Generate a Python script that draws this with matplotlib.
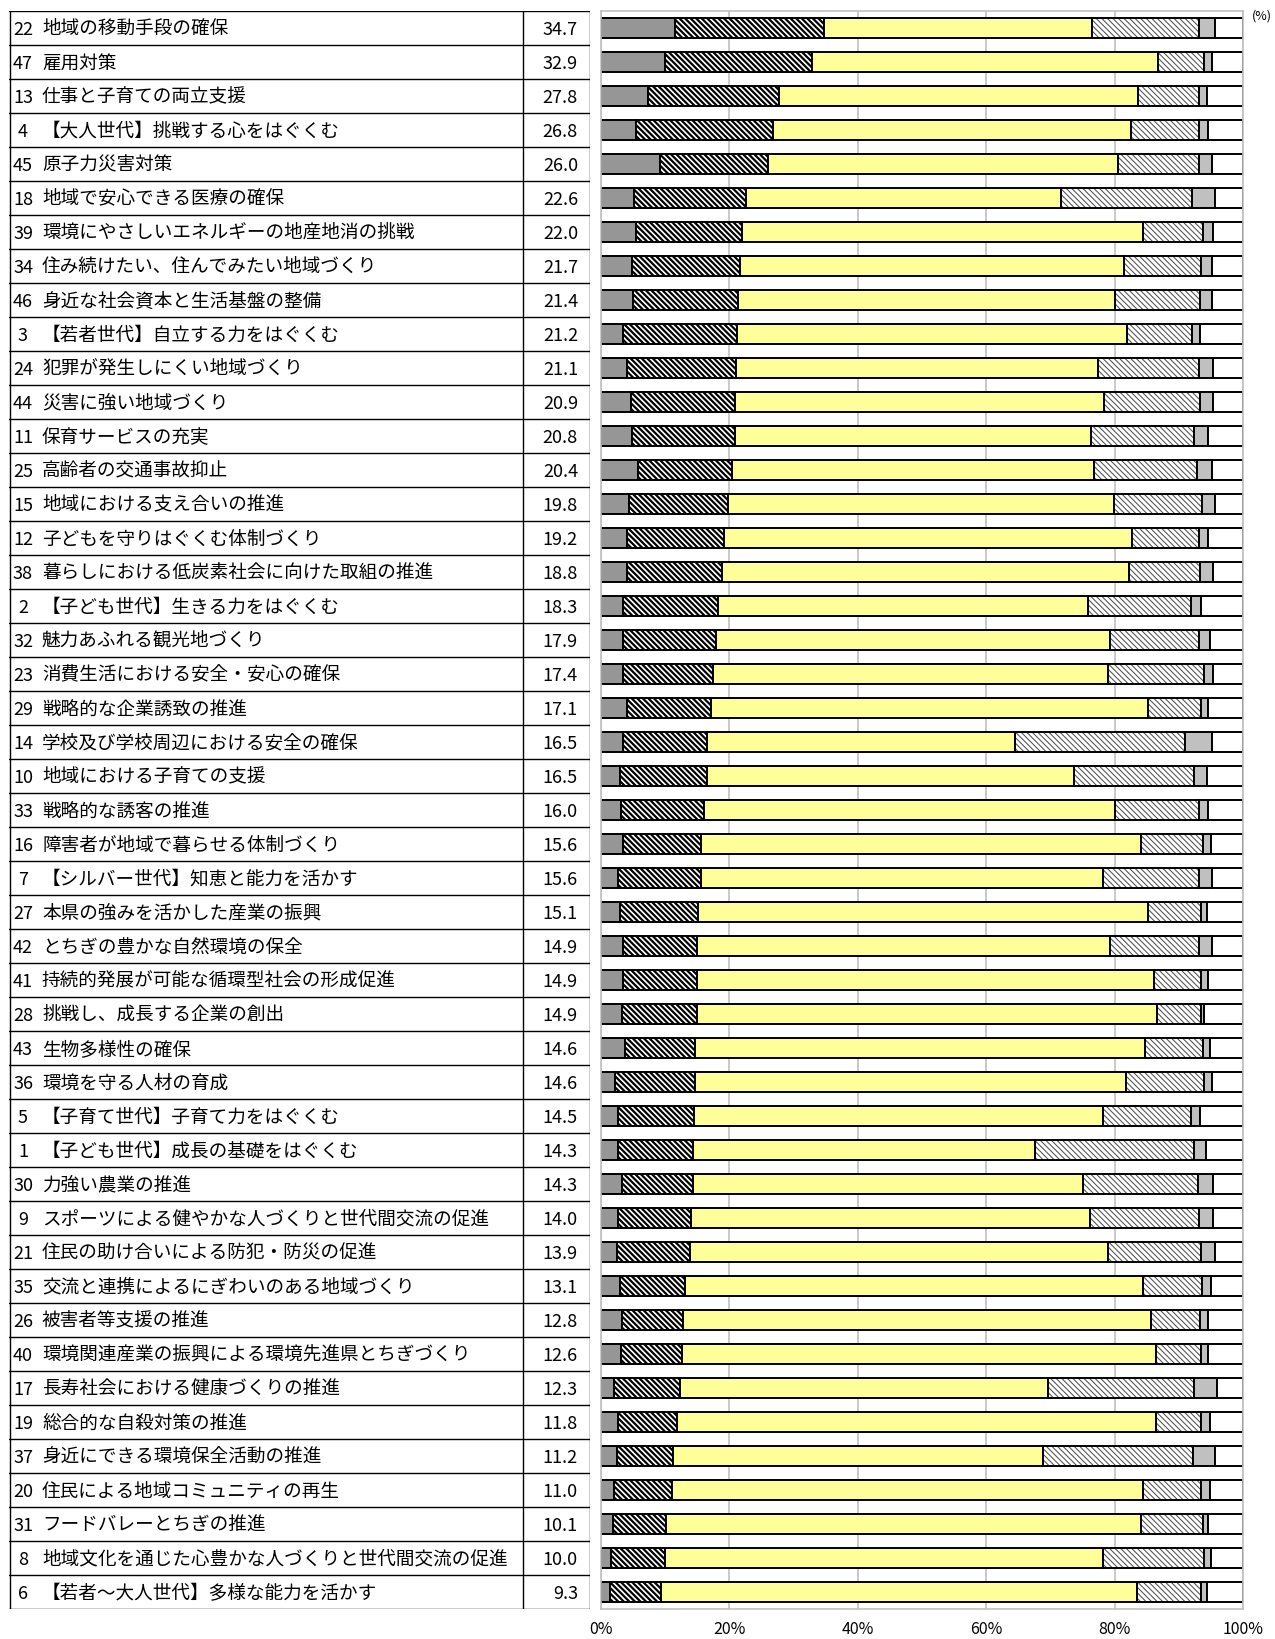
import numpy as np
import matplotlib
matplotlib.use("Agg")
import matplotlib.pyplot as plt

plt.rcParams['font.family'] = ['Noto Sans CJK JP', 'DejaVu Sans']
plt.rcParams['hatch.linewidth'] = 1.6

nums = [22, 47, 13, 4, 45, 18, 39, 34, 46, 3, 24, 44, 11, 25, 15, 12, 38, 2, 32, 23,
        29, 14, 10, 33, 16, 7, 27, 42, 41, 28, 43, 36, 5, 1, 30, 9, 21, 35, 26, 40,
        17, 19, 37, 20, 31, 8, 6]
names = [
    "地域の移動手段の確保", "雇用対策", "仕事と子育ての両立支援",
    "【大人世代】挑戦する心をはぐくむ", "原子力災害対策", "地域で安心できる医療の確保",
    "環境にやさしいエネルギーの地産地消の挑戦", "住み続けたい、住んでみたい地域づくり",
    "身近な社会資本と生活基盤の整備", "【若者世代】自立する力をはぐくむ",
    "犯罪が発生しにくい地域づくり", "災害に強い地域づくり", "保育サービスの充実",
    "高齢者の交通事故抑止", "地域における支え合いの推進", "子どもを守りはぐくむ体制づくり",
    "暮らしにおける低炭素社会に向けた取組の推進", "【子ども世代】生きる力をはぐくむ",
    "魅力あふれる観光地づくり", "消費生活における安全・安心の確保", "戦略的な企業誘致の推進",
    "学校及び学校周辺における安全の確保", "地域における子育ての支援", "戦略的な誘客の推進",
    "障害者が地域で暮らせる体制づくり", "【シルバー世代】知恵と能力を活かす",
    "本県の強みを活かした産業の振興", "とちぎの豊かな自然環境の保全",
    "持続的発展が可能な循環型社会の形成促進", "挑戦し、成長する企業の創出",
    "生物多様性の確保", "環境を守る人材の育成", "【子育て世代】子育て力をはぐくむ",
    "【子ども世代】成長の基礎をはぐくむ", "力強い農業の推進",
    "スポーツによる健やかな人づくりと世代間交流の促進",
    "住民の助け合いによる防犯・防災の促進", "交流と連携によるにぎわいのある地域づくり",
    "被害者等支援の推進", "環境関連産業の振興による環境先進県とちぎづくり",
    "長寿社会における健康づくりの推進", "総合的な自殺対策の推進",
    "身近にできる環境保全活動の推進", "住民による地域コミュニティの再生",
    "フードバレーとちぎの推進", "地域文化を通じた心豊かな人づくりと世代間交流の促進",
    "【若者～大人世代】多様な能力を活かす"]
totals = [34.7, 32.9, 27.8, 26.8, 26.0, 22.6, 22.0, 21.7, 21.4, 21.2, 21.1, 20.9, 20.8,
          20.4, 19.8, 19.2, 18.8, 18.3, 17.9, 17.4, 17.1, 16.5, 16.5, 16.0, 15.6, 15.6,
          15.1, 14.9, 14.9, 14.9, 14.6, 14.6, 14.5, 14.3, 14.3, 14.0, 13.9, 13.1, 12.8,
          12.6, 12.3, 11.8, 11.2, 11.0, 10.1, 10.0, 9.3]

seg_dark = [11.6, 9.9, 7.3, 5.4, 9.2, 5.1, 5.4, 4.8, 5.0, 3.5, 4.1, 4.6, 4.8, 5.8, 4.3, 4.1,
            4.1, 3.4, 3.5, 3.4, 4.1, 3.5, 2.9, 3.1, 3.5, 2.6, 2.9, 3.5, 3.5, 3.2, 3.8, 2.2,
            2.7, 2.7, 3.2, 2.6, 2.5, 2.9, 3.2, 3.1, 2.1, 2.7, 2.5, 2.1, 1.9, 1.6, 1.4]
seg_dense = [23.1, 23.0, 20.5, 21.4, 16.8, 17.5, 16.6, 16.9, 16.4, 17.7, 17.0, 16.3, 16.0,
             14.6, 15.5, 15.1, 14.7, 14.9, 14.4, 14.0, 13.0, 13.0, 13.6, 12.9, 12.1, 13.0,
             12.2, 11.4, 11.4, 11.7, 10.8, 12.4, 11.8, 11.6, 11.1, 11.4, 11.4, 10.2, 9.6,
             9.5, 10.2, 9.1, 8.7, 8.9, 8.2, 8.4, 7.9]
seg_yellow = [41.8, 53.8, 55.9, 55.7, 54.6, 49.0, 62.4, 59.7, 58.7, 60.8, 56.3, 57.5, 55.6,
              56.4, 60.1, 63.5, 63.4, 57.6, 61.4, 61.5, 68.1, 48.0, 57.2, 64.1, 68.5, 62.6,
              70.1, 64.4, 71.2, 71.7, 70.1, 67.2, 63.7, 53.3, 60.7, 62.1, 65.1, 71.4, 72.8,
              73.9, 57.4, 74.7, 57.6, 73.4, 74.0, 68.2, 74.2]
seg_light = [16.7, 7.2, 9.5, 10.7, 12.6, 20.4, 9.3, 12.0, 13.2, 10.0, 15.8, 14.9, 15.9, 16.1,
             13.7, 10.4, 11.1, 16.0, 13.8, 15.1, 8.3, 26.5, 18.6, 13.0, 9.6, 14.9, 8.2, 13.8,
             7.4, 6.9, 9.0, 12.1, 13.7, 24.8, 18.0, 17.1, 14.4, 9.1, 7.7, 7.0, 22.7, 6.9,
             23.4, 9.0, 9.7, 15.7, 9.9]
seg_gray = [2.5, 1.3, 1.2, 1.4, 1.9, 3.7, 1.7, 1.8, 1.9, 1.3, 2.2, 2.1, 2.2, 2.3, 2.1, 1.4,
            2.0, 1.6, 1.7, 1.4, 1.1, 4.1, 2.1, 1.5, 1.3, 2.0, 1.0, 2.0, 1.1, 0.4, 1.1, 1.3,
            1.4, 1.8, 2.3, 2.2, 2.2, 1.4, 1.3, 1.1, 3.5, 1.4, 3.4, 1.4, 0.8, 1.1, 1.0]
seg_white = [4.3, 4.8, 5.6, 5.4, 4.9, 4.3, 4.6, 4.8, 4.8, 6.7, 4.6, 4.6, 5.5, 4.8, 4.3, 5.5,
             4.7, 6.5, 5.2, 4.6, 5.4, 4.9, 5.6, 5.4, 5.0, 4.9, 5.6, 4.9, 5.4, 6.1, 5.2, 4.8,
             6.7, 5.8, 4.7, 4.6, 4.4, 5.0, 5.4, 5.4, 4.1, 5.2, 4.4, 5.2, 5.4, 5.0, 5.6]

xticks = [0, 20, 40, 60, 80, 100]
xticklabels = ["0%", "20%", "40%", "60%", "80%", "100%"]

W, H = 1275, 1639


def rect(l, t, r, b):
    return [l / W, 1 - b / H, (r - l) / W, (b - t) / H]


def hatch_lw(bars, lw):
    for p in bars:
        if hasattr(p, "set_hatch_linewidth"):
            p.set_hatch_linewidth(lw)


fig = plt.figure(figsize=(W / 100, H / 100), dpi=100)
n = len(names)
y = np.arange(n)

# table on the left
tab = fig.add_axes(rect(9, 11, 590, 1609))
tab.set_xlim(9, 590)
tab.set_ylim(n - 0.5, -0.5)
tab.axis("off")
for i in range(n + 1):
    tab.axhline(i - 0.5, color="black", lw=1.0)
for xv in [9.5, 523, 589.5]:
    tab.axvline(xv, color="black", lw=1.0)
for i in range(n):
    ty = i + 0.05
    tab.text(23, ty, str(nums[i]), ha="center", va="center", fontsize=13)
    tab.text(42, ty, names[i], ha="left", va="center", fontsize=13.4)
    tab.text(578, ty, f"{totals[i]:.1f}", ha="right", va="center", fontsize=13)

# stacked bars on the right
ax = fig.add_axes(rect(601, 11, 1243, 1609))
ax.set_xlim(0, 100)
ax.set_ylim(n - 0.5, -0.5)
ax.set_xticks(xticks)
ax.set_xticklabels(xticklabels, fontsize=11.5)
ax.set_yticks([])
ax.tick_params(axis="x", length=0, pad=9)
ax.grid(axis="x", color="#c0c0c0", lw=1.2)
ax.set_axisbelow(True)
for s in ax.spines.values():
    s.set_color("#c0c0c0")
    s.set_linewidth(1.2)

bh = 0.61
segs = [seg_dark, seg_dense, seg_yellow, seg_light, seg_gray, seg_white]
left = np.zeros(n)
for k, seg in enumerate(segs):
    seg = np.array(seg)
    if k == 0:
        ax.barh(y, seg, left=left, height=bh, color="#969696", lw=0)
    elif k == 1:
        b = ax.barh(y, seg, left=left, height=bh, color="white", edgecolor="black",
                    hatch="\\" * 6, lw=0)
        hatch_lw(b, 1.6)
    elif k == 2:
        ax.barh(y, seg, left=left, height=bh, color="#ffff99", lw=0)
    elif k == 3:
        b = ax.barh(y, seg, left=left, height=bh, color="white", edgecolor="#505050",
                    hatch="\\" * 6, lw=0)
        hatch_lw(b, 0.75)
    elif k == 4:
        ax.barh(y, seg, left=left, height=bh, color="#c0c0c0", lw=0)
    else:
        ax.barh(y, seg, left=left, height=bh, color="white", lw=0)
    ax.barh(y, seg, left=left, height=bh, fill=False, edgecolor="black", lw=1.4)
    left = left + seg

fig.text(1262 / W, 1 - 16 / H, "(%)", ha="center", va="center", fontsize=9)

fig.savefig("out.png", dpi=100)
